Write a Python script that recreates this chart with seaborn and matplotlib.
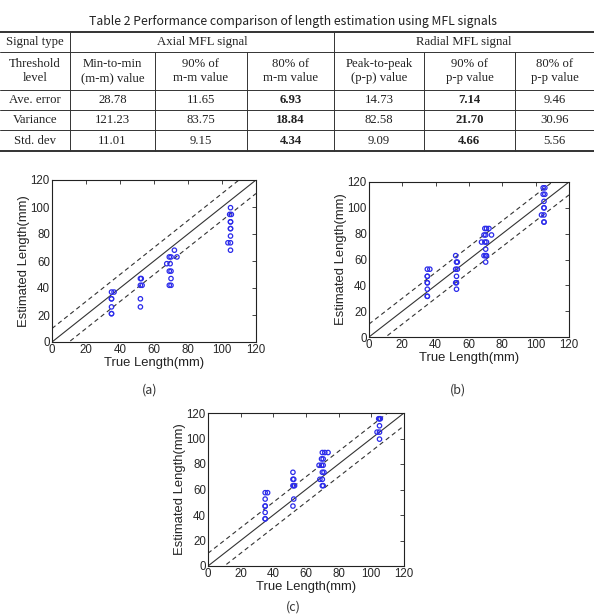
import numpy as np
import pandas as pd
import seaborn as sns
import matplotlib.pyplot as plt

# 표 데이터
table_title = 'Table 2 Performance comparison of length estimation using MFL signals'
row_names = ['Ave. error', 'Variance', 'Std. dev']
group_names = ['Axial MFL signal', 'Radial MFL signal']
threshold_names = ['Min-to-min\n(m-m) value', '90% of\nm-m value', '80% of\nm-m value',
                   'Peak-to-peak\n(p-p) value', '90% of\np-p value', '80% of\np-p value']
ave_error = ['28.78', '11.65', '6.93', '14.73', '7.14', '9.46']
variance = ['121.23', '83.75', '18.84', '82.58', '21.70', '30.96']
std_dev = ['11.01', '9.15', '4.34', '9.09', '4.66', '5.56']
bold_cols = [2, 4]

# 산점도 데이터 (a) 80% of m-m ... 눈으로 읽은 값
a_true = [35, 36.5, 35, 35, 35, 35, 35,
          52, 52.5, 52, 53, 52, 52,
          69, 70, 73.5, 72, 67.5, 69.5, 69, 70, 70, 69, 70,
          105, 104.5, 105.5, 105, 105, 105, 105, 105, 103.5, 105, 105]
a_est = [37, 37, 32, 32, 26, 21, 21,
         47, 47, 42, 42, 32, 26,
         63, 63, 63, 68, 58, 58, 52.5, 52.5, 47, 42, 42,
         99.5, 94.5, 94.5, 89, 89, 84, 84, 78.5, 73.5, 73.5, 68]

b_true = [35, 36.5, 35, 35, 35, 35, 35, 35, 35,
          52, 52.5, 53, 52, 53, 52.5, 52, 52.5, 52.5,
          69.5, 70.5, 72, 69, 70, 73.5, 67.5, 69.5, 70.5, 70, 69, 70, 70.5, 70,
          104.5, 105.5, 104.5, 105.5, 105, 105, 105, 103.5, 105, 105, 105]
b_est = [52.5, 52.5, 47, 47, 42, 42, 37, 31.5, 31.5,
         63, 58, 58, 52.5, 52.5, 47, 42, 42, 37,
         84, 84, 84, 79, 79, 79, 73.5, 73.5, 73.5, 68, 63, 63, 63, 58,
         115.5, 115.5, 110.5, 110.5, 105, 100, 100, 94.5, 94.5, 89, 89]

c_true = [35, 36.5, 35, 35, 35, 35, 35, 35,
          52, 52, 52.5, 52, 52.5, 53, 52.5, 52,
          70, 71.5, 73.5, 69.5, 70.5, 68, 69.5, 70.5, 70, 71, 68.5, 70, 70, 70.5,
          104.5, 105, 105.5, 105, 103.5, 105, 105]
c_est = [57.5, 57.5, 52.5, 47, 47, 42, 37, 37,
         73.5, 68, 68, 63, 63, 63, 52.5, 47,
         89, 89, 89, 84, 84, 79, 79, 79, 73.5, 73.5, 68, 68, 63, 63,
         115.5, 115.5, 115.5, 110, 105, 105, 99.5]

diag = np.array([0, 120])
band = 10
ticks = [0, 20, 40, 60, 80, 100, 120]


def draw_table(bg):
    serif = 'Liberation Serif'
    bg.text(293, 22, table_title, ha='center', va='center', fontsize=8.8,
            family=['Noto Sans CJK KR', 'DejaVu Sans'], color='#222222')
    col_x = [0, 70, 155, 247, 334, 424, 515, 594]
    row_y = [32, 52, 90, 110, 130, 151]
    lc = '#333333'
    bg.plot([0, 594], [row_y[0], row_y[0]], color=lc, lw=1.4)
    bg.plot([0, 594], [row_y[-1], row_y[-1]], color=lc, lw=1.4)
    for y in row_y[1:-1]:
        bg.plot([0, 594], [y, y], color=lc, lw=0.7)
    for x in [col_x[1], col_x[4]]:
        bg.plot([x, x], [row_y[0], row_y[-1]], color=lc, lw=0.7)
    for x in [col_x[2], col_x[3], col_x[5], col_x[6]]:
        bg.plot([x, x], [row_y[1], row_y[-1]], color=lc, lw=0.7)

    kw = dict(ha='center', va='center', fontsize=9.2, family=serif, color='#222222', linespacing=1.25)
    bg.text(35, (row_y[0] + row_y[1]) / 2, 'Signal type', **kw)
    bg.text((col_x[1] + col_x[4]) / 2, (row_y[0] + row_y[1]) / 2, group_names[0], **kw)
    bg.text((col_x[4] + col_x[7]) / 2, (row_y[0] + row_y[1]) / 2, group_names[1], **kw)
    bg.text(35, (row_y[1] + row_y[2]) / 2, 'Threshold\nlevel', **kw)
    for i, name in enumerate(threshold_names):
        bg.text((col_x[i + 1] + col_x[i + 2]) / 2, (row_y[1] + row_y[2]) / 2, name, **kw)
    for r, (label, vals) in enumerate(zip(row_names, [ave_error, variance, std_dev])):
        yc = (row_y[r + 2] + row_y[r + 3]) / 2
        bg.text(35, yc, label, **kw)
        for i, v in enumerate(vals):
            w = 'bold' if i in bold_cols else 'normal'
            bg.text((col_x[i + 1] + col_x[i + 2]) / 2, yc, v, fontweight=w, **kw)


def draw_scatter(ax, xs, ys):
    df = pd.DataFrame({'true': xs, 'est': ys})
    ax.plot(diag, diag, color='#333333', lw=0.8)
    ax.plot(diag, diag + band, color='#333333', lw=0.8, ls=(0, (4, 3)))
    ax.plot(diag, diag - band, color='#333333', lw=0.8, ls=(0, (4, 3)))
    sns.scatterplot(data=df, x='true', y='est', ax=ax, marker='o', s=10,
                    facecolor='none', edgecolor='#2b2bea', linewidth=0.9, zorder=3)
    ax.set_xlim(0, 120)
    ax.set_ylim(0, 120)
    ax.set_xticks(ticks)
    ax.set_yticks(ticks)
    ax.set_xlabel('True Length(mm)', fontsize=9.4, labelpad=0.5)
    ax.set_ylabel('Estimated Length(mm)', fontsize=9.4, labelpad=0.5)
    ax.tick_params(direction='in', length=3, width=0.6, labelsize=8.3, pad=1.5,
                   top=True, right=True)
    for s in ax.spines.values():
        s.set_visible(True)
        s.set_linewidth(0.8)
        s.set_color('#222222')


sns.set_theme(style='white')
plt.rcParams['font.family'] = ['Liberation Sans', 'DejaVu Sans']
plt.rcParams['text.color'] = '#222222'
plt.rcParams['axes.labelcolor'] = '#222222'

W, H = 594, 616
fig = plt.figure(figsize=(W / 100, H / 100), dpi=100)
bg = fig.add_axes([0, 0, 1, 1])
bg.set_xlim(0, W)
bg.set_ylim(H, 0)
bg.axis('off')
draw_table(bg)

# 축 위치 (픽셀 기준)
boxes = {'a': (52, 180, 204, 162), 'b': (369, 182, 200, 155), 'c': (208, 413, 196, 153)}
data = {'a': (a_true, a_est), 'b': (b_true, b_est), 'c': (c_true, c_est)}
captions = {'a': (150, 390), 'b': (458, 390), 'c': (293, 607)}
for k in ['a', 'b', 'c']:
    x0, y0, w, h = boxes[k]
    ax = fig.add_axes([x0 / W, 1 - (y0 + h) / H, w / W, h / H])
    draw_scatter(ax, *data[k])
    bg.text(captions[k][0], captions[k][1], '(%s)' % k, ha='center', va='center',
            fontsize=9, family=['Noto Sans CJK KR', 'DejaVu Sans'], color='#333333')

fig.savefig('out.png', dpi=100)
